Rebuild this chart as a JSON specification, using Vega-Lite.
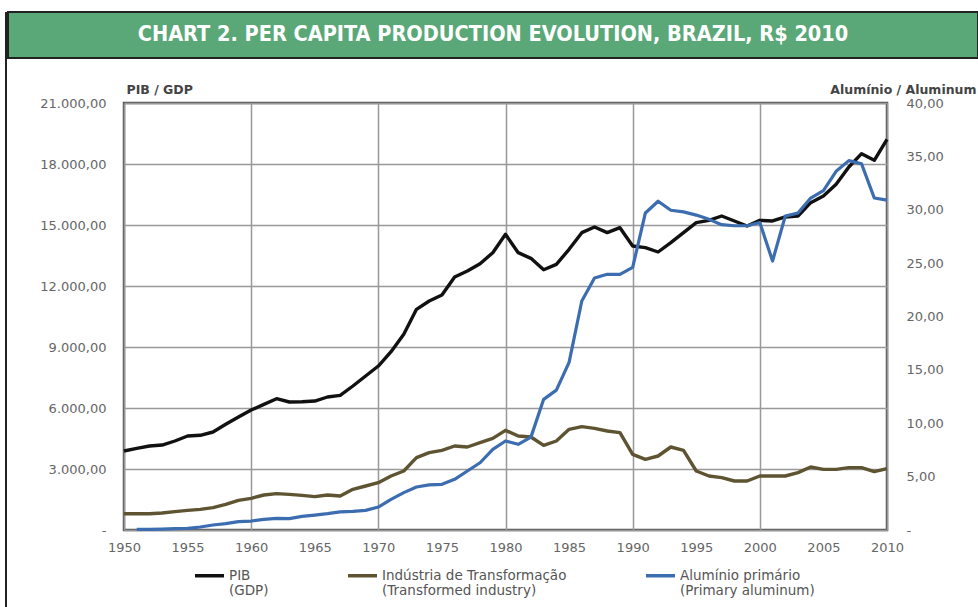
{
  "$schema": "https://vega.github.io/schema/vega-lite/v6.json",
  "background": "white",
  "padding": {"left": 5, "top": 11, "right": 0, "bottom": 0},
  "spacing": 0,
  "config": {"font": "DejaVu Sans", "view": {"stroke": null}},
  "datasets": {
    "d": [
      {"year":1950,"series":"PIB|(GDP)","value":3885},{"year":1951,"series":"PIB|(GDP)","value":4018},{"year":1952,"series":"PIB|(GDP)","value":4130},{"year":1953,"series":"PIB|(GDP)","value":4180},{"year":1954,"series":"PIB|(GDP)","value":4377},{"year":1955,"series":"PIB|(GDP)","value":4623},{"year":1956,"series":"PIB|(GDP)","value":4657},{"year":1957,"series":"PIB|(GDP)","value":4820},{"year":1958,"series":"PIB|(GDP)","value":5198},{"year":1959,"series":"PIB|(GDP)","value":5557},
      {"year":1960,"series":"PIB|(GDP)","value":5900},{"year":1961,"series":"PIB|(GDP)","value":6180},{"year":1962,"series":"PIB|(GDP)","value":6458},{"year":1963,"series":"PIB|(GDP)","value":6295},{"year":1964,"series":"PIB|(GDP)","value":6310},{"year":1965,"series":"PIB|(GDP)","value":6344},{"year":1966,"series":"PIB|(GDP)","value":6541},{"year":1967,"series":"PIB|(GDP)","value":6624},{"year":1968,"series":"PIB|(GDP)","value":7082},{"year":1969,"series":"PIB|(GDP)","value":7573},
      {"year":1970,"series":"PIB|(GDP)","value":8065},{"year":1971,"series":"PIB|(GDP)","value":8770},{"year":1972,"series":"PIB|(GDP)","value":9624},{"year":1973,"series":"PIB|(GDP)","value":10853},{"year":1974,"series":"PIB|(GDP)","value":11262},{"year":1975,"series":"PIB|(GDP)","value":11557},{"year":1976,"series":"PIB|(GDP)","value":12442},{"year":1977,"series":"PIB|(GDP)","value":12738},{"year":1978,"series":"PIB|(GDP)","value":13098},{"year":1979,"series":"PIB|(GDP)","value":13639},
      {"year":1980,"series":"PIB|(GDP)","value":14542},{"year":1981,"series":"PIB|(GDP)","value":13639},{"year":1982,"series":"PIB|(GDP)","value":13360},{"year":1983,"series":"PIB|(GDP)","value":12800},{"year":1984,"series":"PIB|(GDP)","value":13065},{"year":1985,"series":"PIB|(GDP)","value":13803},{"year":1986,"series":"PIB|(GDP)","value":14623},{"year":1987,"series":"PIB|(GDP)","value":14900},{"year":1988,"series":"PIB|(GDP)","value":14623},{"year":1989,"series":"PIB|(GDP)","value":14868},
      {"year":1990,"series":"PIB|(GDP)","value":13967},{"year":1991,"series":"PIB|(GDP)","value":13885},{"year":1992,"series":"PIB|(GDP)","value":13672},{"year":1993,"series":"PIB|(GDP)","value":14131},{"year":1994,"series":"PIB|(GDP)","value":14623},{"year":1995,"series":"PIB|(GDP)","value":15115},{"year":1996,"series":"PIB|(GDP)","value":15230},{"year":1997,"series":"PIB|(GDP)","value":15443},{"year":1998,"series":"PIB|(GDP)","value":15197},{"year":1999,"series":"PIB|(GDP)","value":14950},
      {"year":2000,"series":"PIB|(GDP)","value":15230},{"year":2001,"series":"PIB|(GDP)","value":15197},{"year":2002,"series":"PIB|(GDP)","value":15394},{"year":2003,"series":"PIB|(GDP)","value":15443},{"year":2004,"series":"PIB|(GDP)","value":16098},{"year":2005,"series":"PIB|(GDP)","value":16426},{"year":2006,"series":"PIB|(GDP)","value":17000},{"year":2007,"series":"PIB|(GDP)","value":17852},{"year":2008,"series":"PIB|(GDP)","value":18508},{"year":2009,"series":"PIB|(GDP)","value":18180},{"year":2010,"series":"PIB|(GDP)","value":19213},

      {"year":1950,"series":"Indústria de Transformação|(Transformed industry)","value":802},{"year":1951,"series":"Indústria de Transformação|(Transformed industry)","value":802},{"year":1952,"series":"Indústria de Transformação|(Transformed industry)","value":802},{"year":1953,"series":"Indústria de Transformação|(Transformed industry)","value":836},{"year":1954,"series":"Indústria de Transformação|(Transformed industry)","value":902},{"year":1955,"series":"Indústria de Transformação|(Transformed industry)","value":967},{"year":1956,"series":"Indústria de Transformação|(Transformed industry)","value":1016},{"year":1957,"series":"Indústria de Transformação|(Transformed industry)","value":1098},{"year":1958,"series":"Indústria de Transformação|(Transformed industry)","value":1262},{"year":1959,"series":"Indústria de Transformação|(Transformed industry)","value":1459},
      {"year":1960,"series":"Indústria de Transformação|(Transformed industry)","value":1557},{"year":1961,"series":"Indústria de Transformação|(Transformed industry)","value":1721},{"year":1962,"series":"Indústria de Transformação|(Transformed industry)","value":1787},{"year":1963,"series":"Indústria de Transformação|(Transformed industry)","value":1754},{"year":1964,"series":"Indústria de Transformação|(Transformed industry)","value":1705},{"year":1965,"series":"Indústria de Transformação|(Transformed industry)","value":1639},{"year":1966,"series":"Indústria de Transformação|(Transformed industry)","value":1721},{"year":1967,"series":"Indústria de Transformação|(Transformed industry)","value":1672},{"year":1968,"series":"Indústria de Transformação|(Transformed industry)","value":2000},{"year":1969,"series":"Indústria de Transformação|(Transformed industry)","value":2164},
      {"year":1970,"series":"Indústria de Transformação|(Transformed industry)","value":2328},{"year":1971,"series":"Indústria de Transformação|(Transformed industry)","value":2656},{"year":1972,"series":"Indústria de Transformação|(Transformed industry)","value":2902},{"year":1973,"series":"Indústria de Transformação|(Transformed industry)","value":3557},{"year":1974,"series":"Indústria de Transformação|(Transformed industry)","value":3803},{"year":1975,"series":"Indústria de Transformação|(Transformed industry)","value":3918},{"year":1976,"series":"Indústria de Transformação|(Transformed industry)","value":4131},{"year":1977,"series":"Indústria de Transformação|(Transformed industry)","value":4082},{"year":1978,"series":"Indústria de Transformação|(Transformed industry)","value":4295},{"year":1979,"series":"Indústria de Transformação|(Transformed industry)","value":4508},
      {"year":1980,"series":"Indústria de Transformação|(Transformed industry)","value":4902},{"year":1981,"series":"Indústria de Transformação|(Transformed industry)","value":4623},{"year":1982,"series":"Indústria de Transformação|(Transformed industry)","value":4574},{"year":1983,"series":"Indústria de Transformação|(Transformed industry)","value":4164},{"year":1984,"series":"Indústria de Transformação|(Transformed industry)","value":4377},{"year":1985,"series":"Indústria de Transformação|(Transformed industry)","value":4951},{"year":1986,"series":"Indústria de Transformação|(Transformed industry)","value":5082},{"year":1987,"series":"Indústria de Transformação|(Transformed industry)","value":5000},{"year":1988,"series":"Indústria de Transformação|(Transformed industry)","value":4869},{"year":1989,"series":"Indústria de Transformação|(Transformed industry)","value":4787},
      {"year":1990,"series":"Indústria de Transformação|(Transformed industry)","value":3721},{"year":1991,"series":"Indústria de Transformação|(Transformed industry)","value":3475},{"year":1992,"series":"Indústria de Transformação|(Transformed industry)","value":3639},{"year":1993,"series":"Indústria de Transformação|(Transformed industry)","value":4082},{"year":1994,"series":"Indústria de Transformação|(Transformed industry)","value":3918},{"year":1995,"series":"Indústria de Transformação|(Transformed industry)","value":2902},{"year":1996,"series":"Indústria de Transformação|(Transformed industry)","value":2656},{"year":1997,"series":"Indústria de Transformação|(Transformed industry)","value":2574},{"year":1998,"series":"Indústria de Transformação|(Transformed industry)","value":2410},{"year":1999,"series":"Indústria de Transformação|(Transformed industry)","value":2410},
      {"year":2000,"series":"Indústria de Transformação|(Transformed industry)","value":2656},{"year":2001,"series":"Indústria de Transformação|(Transformed industry)","value":2656},{"year":2002,"series":"Indústria de Transformação|(Transformed industry)","value":2656},{"year":2003,"series":"Indústria de Transformação|(Transformed industry)","value":2820},{"year":2004,"series":"Indústria de Transformação|(Transformed industry)","value":3098},{"year":2005,"series":"Indústria de Transformação|(Transformed industry)","value":2984},{"year":2006,"series":"Indústria de Transformação|(Transformed industry)","value":2984},{"year":2007,"series":"Indústria de Transformação|(Transformed industry)","value":3066},{"year":2008,"series":"Indústria de Transformação|(Transformed industry)","value":3066},{"year":2009,"series":"Indústria de Transformação|(Transformed industry)","value":2869},{"year":2010,"series":"Indústria de Transformação|(Transformed industry)","value":3017},

      {"year":1951,"series":"Alumínio primário|(Primary aluminum)","value":0.06},{"year":1952,"series":"Alumínio primário|(Primary aluminum)","value":0.06},{"year":1953,"series":"Alumínio primário|(Primary aluminum)","value":0.09},{"year":1954,"series":"Alumínio primário|(Primary aluminum)","value":0.12},{"year":1955,"series":"Alumínio primário|(Primary aluminum)","value":0.15},{"year":1956,"series":"Alumínio primário|(Primary aluminum)","value":0.28},{"year":1957,"series":"Alumínio primário|(Primary aluminum)","value":0.47},{"year":1958,"series":"Alumínio primário|(Primary aluminum)","value":0.59},{"year":1959,"series":"Alumínio primário|(Primary aluminum)","value":0.78},
      {"year":1960,"series":"Alumínio primário|(Primary aluminum)","value":0.84},{"year":1961,"series":"Alumínio primário|(Primary aluminum)","value":1.0},{"year":1962,"series":"Alumínio primário|(Primary aluminum)","value":1.09},{"year":1963,"series":"Alumínio primário|(Primary aluminum)","value":1.06},{"year":1964,"series":"Alumínio primário|(Primary aluminum)","value":1.28},{"year":1965,"series":"Alumínio primário|(Primary aluminum)","value":1.4},{"year":1966,"series":"Alumínio primário|(Primary aluminum)","value":1.53},{"year":1967,"series":"Alumínio primário|(Primary aluminum)","value":1.69},{"year":1968,"series":"Alumínio primário|(Primary aluminum)","value":1.75},{"year":1969,"series":"Alumínio primário|(Primary aluminum)","value":1.84},
      {"year":1970,"series":"Alumínio primário|(Primary aluminum)","value":2.15},{"year":1971,"series":"Alumínio primário|(Primary aluminum)","value":2.87},{"year":1972,"series":"Alumínio primário|(Primary aluminum)","value":3.5},{"year":1973,"series":"Alumínio primário|(Primary aluminum)","value":4.03},{"year":1974,"series":"Alumínio primário|(Primary aluminum)","value":4.22},{"year":1975,"series":"Alumínio primário|(Primary aluminum)","value":4.28},{"year":1976,"series":"Alumínio primário|(Primary aluminum)","value":4.75},{"year":1977,"series":"Alumínio primário|(Primary aluminum)","value":5.53},{"year":1978,"series":"Alumínio primário|(Primary aluminum)","value":6.3},{"year":1979,"series":"Alumínio primário|(Primary aluminum)","value":7.56},
      {"year":1980,"series":"Alumínio primário|(Primary aluminum)","value":8.34},{"year":1981,"series":"Alumínio primário|(Primary aluminum)","value":8.03},{"year":1982,"series":"Alumínio primário|(Primary aluminum)","value":8.7},{"year":1983,"series":"Alumínio primário|(Primary aluminum)","value":12.24},{"year":1984,"series":"Alumínio primário|(Primary aluminum)","value":13.1},{"year":1985,"series":"Alumínio primário|(Primary aluminum)","value":15.7},{"year":1986,"series":"Alumínio primário|(Primary aluminum)","value":21.45},{"year":1987,"series":"Alumínio primário|(Primary aluminum)","value":23.6},{"year":1988,"series":"Alumínio primário|(Primary aluminum)","value":23.95},{"year":1989,"series":"Alumínio primário|(Primary aluminum)","value":23.95},
      {"year":1990,"series":"Alumínio primário|(Primary aluminum)","value":24.6},{"year":1991,"series":"Alumínio primário|(Primary aluminum)","value":29.7},{"year":1992,"series":"Alumínio primário|(Primary aluminum)","value":30.8},{"year":1993,"series":"Alumínio primário|(Primary aluminum)","value":29.95},{"year":1994,"series":"Alumínio primário|(Primary aluminum)","value":29.8},{"year":1995,"series":"Alumínio primário|(Primary aluminum)","value":29.5},{"year":1996,"series":"Alumínio primário|(Primary aluminum)","value":29.1},{"year":1997,"series":"Alumínio primário|(Primary aluminum)","value":28.6},{"year":1998,"series":"Alumínio primário|(Primary aluminum)","value":28.5},{"year":1999,"series":"Alumínio primário|(Primary aluminum)","value":28.5},
      {"year":2000,"series":"Alumínio primário|(Primary aluminum)","value":28.8},{"year":2001,"series":"Alumínio primário|(Primary aluminum)","value":25.2},{"year":2002,"series":"Alumínio primário|(Primary aluminum)","value":29.4},{"year":2003,"series":"Alumínio primário|(Primary aluminum)","value":29.7},{"year":2004,"series":"Alumínio primário|(Primary aluminum)","value":31.1},{"year":2005,"series":"Alumínio primário|(Primary aluminum)","value":31.8},{"year":2006,"series":"Alumínio primário|(Primary aluminum)","value":33.6},{"year":2007,"series":"Alumínio primário|(Primary aluminum)","value":34.6},{"year":2008,"series":"Alumínio primário|(Primary aluminum)","value":34.3},{"year":2009,"series":"Alumínio primário|(Primary aluminum)","value":31.1},{"year":2010,"series":"Alumínio primário|(Primary aluminum)","value":30.9}
    ]
  },
  "hconcat": [
    {
      "width": 2,
      "height": 596,
      "data": {"values": [{"k": 1}]},
      "mark": {"type": "point", "opacity": 0, "size": 0},
      "encoding": {},
      "view": {"fill": "#222", "stroke": null}
    },
    {
      "spacing": 22,
      "vconcat": [
        {
          "width": 970,
          "height": 46,
          "data": {"values": [{"label": "CHART 2. PER CAPITA PRODUCTION EVOLUTION, BRAZIL, R$  2010"}]},
          "mark": {"type": "text", "color": "white", "font": "DejaVu Sans Condensed", "fontWeight": "bold", "fontSize": 21.5},
          "encoding": {"text": {"field": "label"}},
          "view": {"fill": "#5aa878", "stroke": "#222", "strokeWidth": 2}
        },
        {
          "spacing": 27,
          "hconcat": [
            {
              "width": 1,
              "height": 1,
              "data": {"values": [{"k": 1}]},
              "mark": {"type": "point", "opacity": 0, "size": 0},
              "encoding": {}
            },
            {
              "width": 763,
              "height": 427,
              "data": {"name": "d"},
              "view": {"stroke": "#555", "strokeWidth": 2.5},
              "encoding": {
                "x": {
                  "field": "year", "type": "quantitative",
                  "scale": {"domain": [1950, 2010], "nice": false, "zero": false},
                  "axis": {
                    "title": null, "values": [1950,1955,1960,1965,1970,1975,1980,1985,1990,1995,2000,2005,2010],
                    "format": "d", "domain": false, "ticks": false, "labelPadding": 11,
                    "labelFontSize": 13, "labelColor": "#666", "labelFlush": false,
                    "grid": true, "gridColor": "#999", "gridWidth": 1.5,
                    "gridOpacity": {"condition": {"test": "datum.value % 10 === 0", "value": 1}, "value": 0}
                  }
                },
                "color": {
                  "field": "series", "type": "nominal",
                  "scale": {
                    "domain": ["PIB|(GDP)", "Indústria de Transformação|(Transformed industry)", "Alumínio primário|(Primary aluminum)"],
                    "range": ["#111111", "#5e5432", "#3c6db0"]
                  },
                  "legend": {
                    "title": null, "orient": "none", "legendX": 188, "legendY": 547,
                    "direction": "horizontal", "symbolType": "stroke", "symbolSize": 841,
                    "symbolStrokeWidth": 3.5, "labelOffset": 3, "columnPadding": 72,
                    "labelFontSize": 13.5, "labelColor": "#555", "labelLimit": 400,
                    "labelExpr": "split(datum.label, '|')"
                  }
                }
              },
              "layer": [
                {
                  "transform": [{"filter": "datum.series !== 'Alumínio primário|(Primary aluminum)'"}],
                  "mark": {"type": "line", "strokeWidth": 3.4, "strokeJoin": "round"},
                  "encoding": {
                    "y": {
                      "field": "value", "type": "quantitative",
                      "scale": {"domain": [0, 21000], "nice": false},
                      "axis": {
                        "orient": "left", "values": [0,3000,6000,9000,12000,15000,18000,21000],
                        "labelExpr": "datum.value == 0 ? '-' : replace(replace(replace(format(datum.value, ',.2f'), ',', '#'), '.', ','), '#', '.')",
                        "domain": false, "ticks": false, "labelPadding": 18, "minExtent": 86, "maxExtent": 86,
                        "labelFontSize": 13, "labelColor": "#666",
                        "grid": true, "gridColor": "#999", "gridWidth": 1.5,
                        "title": "PIB / GDP", "titleAngle": 0, "titleAlign": "left", "titleBaseline": "alphabetic",
                        "titleX": 2, "titleY": -10, "titleFontSize": 12.5, "titleFontWeight": "bold", "titleColor": "#444"
                      }
                    }
                  }
                },
                {
                  "transform": [{"filter": "datum.series === 'Alumínio primário|(Primary aluminum)'"}],
                  "mark": {"type": "line", "strokeWidth": 3.2, "strokeJoin": "round"},
                  "encoding": {
                    "y": {
                      "field": "value", "type": "quantitative",
                      "scale": {"domain": [0, 40], "nice": false},
                      "axis": {
                        "orient": "right", "values": [0,5,10,15,20,25,30,35,40],
                        "labelExpr": "datum.value == 0 ? '-' : replace(format(datum.value, '.2f'), '.', ',')",
                        "domain": false, "ticks": false, "labelPadding": 19, "grid": false,
                        "labelFontSize": 13, "labelColor": "#666",
                        "title": "Alumínio / Aluminum", "titleAngle": 0, "titleAlign": "right", "titleBaseline": "alphabetic",
                        "titleX": 89, "titleY": -10, "titleFontSize": 12.5, "titleFontWeight": "bold", "titleColor": "#444"
                      }
                    }
                  }
                }
              ],
              "resolve": {"scale": {"y": "independent"}}
            }
          ]
        }
      ]
    }
  ]
}
